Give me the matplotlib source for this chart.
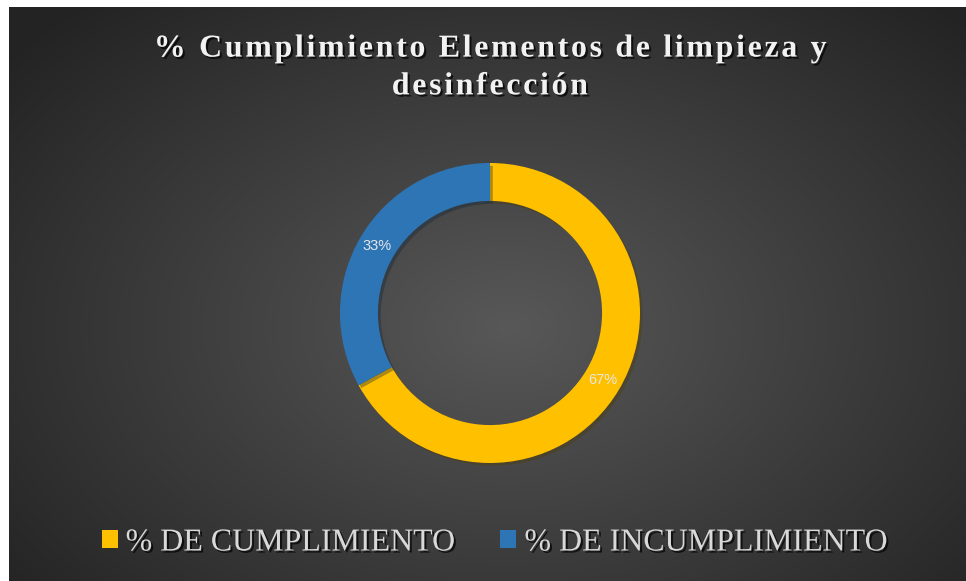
import matplotlib.pyplot as plt
import matplotlib.patheffects as pe
from matplotlib.patches import Patch
import numpy as np

# datos
categorias = ["% DE CUMPLIMIENTO", "% DE INCUMPLIMIENTO"]
porcentajes = [67, 33]
colores = ["#FFC000", "#2E75B6"]
titulo = "% Cumplimiento Elementos de limpieza y\ndesinfección"

W, H = 966, 581
fig = plt.figure(figsize=(W / 100, H / 100), dpi=100, facecolor="white")

# fondo con degradado radial (estilo Excel)
bg = fig.add_axes([9 / W, 0, (W - 9) / W, (H - 7) / H])
nx, ny = 957, 574
xx, yy = np.meshgrid(np.arange(nx), np.arange(ny))
d = np.sqrt(((xx - 500) / 640) ** 2 + ((yy - 320) / 430) ** 2)
g = 0.345 - (0.345 - 0.14) * np.clip(d, 0, 1)
bg.imshow(np.dstack([g, g, g]), aspect="auto", interpolation="bilinear")
bg.axis("off")

# dona
ax = fig.add_axes([340 / W, 118 / H, 300 / W, 300 / H])
wedges, _, autotexts = ax.pie(
    porcentajes,
    colors=colores,
    startangle=90,
    counterclock=False,
    autopct="%1.0f%%",
    pctdistance=0.873,
    wedgeprops=dict(width=0.253, edgecolor="none"),
    textprops=dict(color="#E6E6E6", fontsize=10.5, family="Liberation Sans"),
)
for w in wedges:
    w.set_path_effects([pe.SimplePatchShadow(offset=(2, -2), alpha=0.35), pe.Normal()])
ax.set_xlim(-1, 1)
ax.set_ylim(-1, 1)
ax.set_aspect("equal")

sombra = [pe.SimplePatchShadow(offset=(1.5, -1.5), shadow_rgbFace="black", alpha=0.7), pe.Normal()]

# titulo con espaciado entre letras (hair space)
titulo_esp = "\n".join("\u200a".join(linea) for linea in titulo.split("\n"))
fig.text(490 / W, 1 - 68 / H, titulo_esp, ha="center", va="center",
         fontsize=23, fontweight="bold", family=["Liberation Serif", "DejaVu Serif"],
         color="#F2F2F2", linespacing=1.4, path_effects=sombra)

handles = [Patch(facecolor=c, edgecolor="none") for c in colores]
leg = fig.legend(handles, categorias, loc="center", ncol=2,
                 bbox_to_anchor=(495 / W, 1 - 543 / H), frameon=False,
                 prop=dict(family="Liberation Serif", size=23),
                 handlelength=0.5, handleheight=0.5, handletextpad=0.25,
                 columnspacing=1.4)
for t in leg.get_texts():
    t.set_color("#D9D9D9")
    t.set_path_effects(sombra)

fig.savefig("out.png", dpi=100, facecolor="white")
